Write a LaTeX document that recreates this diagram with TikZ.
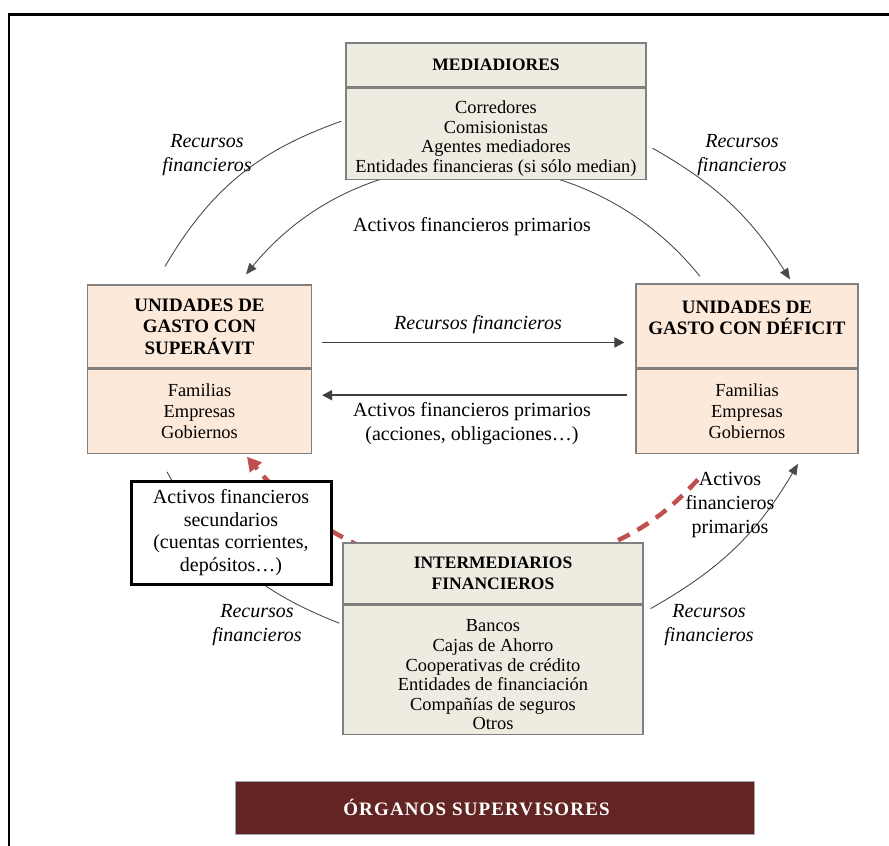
\documentclass[tikz,border=0pt]{standalone}
\usepackage{fontspec}
\setmainfont{Liberation Serif}
\usetikzlibrary{positioning,arrows.meta,backgrounds,calc}
\definecolor{beigefill}{HTML}{EEECE1}
\definecolor{peachfill}{HTML}{FDE9D9}
\definecolor{boxline}{HTML}{808080}
\definecolor{redline}{HTML}{C0504D}
\definecolor{barfill}{HTML}{632523}
\newcommand{\padtop}{\rule{0pt}{22.6pt}}
\tikzset{
  medpart/.style={draw=boxline, line width=1.2pt, fill=beigefill, minimum width=300pt, align=center, inner sep=2pt},
  unipart/.style={draw=boxline, line width=1.2pt, fill=peachfill, minimum width=224pt, align=center, inner sep=2pt},
  medhfont/.style={font=\fontsize{17.5}{21}\selectfont\bfseries},
  unihfont/.style={font=\fontsize{19}{21.5}\selectfont\bfseries},
  bodyfont/.style={font=\fontsize{18.4}{19.6}\selectfont},
  secbox/.style={draw=black, line width=3pt, fill=white, minimum width=200pt, minimum height=103pt, align=center, font=\fontsize{20}{22.7}\selectfont},
  barbox/.style={draw=gray!70, line width=1pt, fill=barfill, minimum width=519pt, minimum height=53pt, text=white, font=\fontsize{19}{22}\selectfont\bfseries\addfontfeatures{LetterSpace=6}},
  lbl/.style={font=\fontsize{20}{24}\selectfont, align=center, inner sep=0pt, yshift=-3pt},
  ilbl/.style={lbl, font=\fontsize{20}{24}\selectfont\itshape},
  flow/.style={-{Triangle[length=10pt,width=10pt]}, line width=1.8pt, draw=black!75},
  arcline/.style={line width=0.9pt, draw=black!70},
  arcflow/.style={arcline, -{Triangle[length=11pt,width=9pt]}},
  secflow/.style={draw=redline, line width=4.5pt, dash pattern=on 13pt off 9pt},
}
\begin{document}
\begin{tikzpicture}[x=1pt, y=1pt]
\useasboundingbox (0,0) rectangle (889,-846);
% frame
\draw[line width=2.5pt] (9,-900) -- (9,-14.5) -- (900,-14.5);
% boxes
\node[medpart, medhfont, minimum height=44pt] (medhead) at (496,-65) {MEDIADIORES};
\node[medpart, bodyfont, minimum height=91pt, below=0pt of medhead] (medbody) {\padtop Corredores\\Comisionistas\\Agentes mediadores\\Entidades financieras (si sólo median)};
\node[unipart, unihfont, minimum height=83pt] (suphead) at (199.5,-326.5) {UNIDADES DE\\GASTO CON\\SUPERÁVIT};
\node[unipart, font=\fontsize{18.4}{21}\selectfont, minimum height=84pt, below=0pt of suphead] (supbody) {Familias\\Empresas\\Gobiernos};
\node[unipart, unihfont, minimum width=222pt, minimum height=84pt] (defhead) at (747,-326) {UNIDADES DE\\GASTO CON DÉFICIT\rule[-17pt]{0pt}{1pt}};
\node[unipart, font=\fontsize{18.4}{21}\selectfont, minimum width=222pt, minimum height=84pt, below=0pt of defhead] (defbody) {Familias\\Empresas\\Gobiernos};
\node[medpart, medhfont, minimum height=61pt] (inthead) at (493,-573.5) {INTERMEDIARIOS\\FINANCIEROS};
\node[medpart, bodyfont, minimum height=129pt, below=0pt of inthead] (intbody) {\padtop Bancos\\Cajas de Ahorro\\Cooperativas de crédito\\Entidades de financiación\\Compañías de seguros\\Otros};
\node[secbox] (secund) at (231,-532.5) {Activos financieros\\secundarios\\(cuentas corrientes,\\depósitos…)};
\node[barbox] (organos) at (494.5,-807.5) {ÓRGANOS SUPERVISORES\hspace*{36pt}};
% labels
\node[ilbl] (rfhor) at (478,-322) {Recursos financieros};
\node[lbl] (afhor) at (472,-421) {Activos financieros primarios\\(acciones, obligaciones…)};
\node[lbl] (aftop) at (472,-224) {Activos financieros primarios};
\node[ilbl] (rftl) at (207,-152) {Recursos\\financieros};
\node[ilbl] (rftr) at (742,-152) {Recursos\\financieros};
\node[ilbl] (rfbl) at (257,-622) {Recursos\\financieros};
\node[ilbl] (rfbr) at (709,-622) {Recursos\\financieros};
\node[lbl] (afbr) at (730,-502) {Activos\\financieros\\primarios};
\coordinate (redend) at ($(afbr.north west)+(14,-6)$);
% flows
\draw[flow, shorten <=10pt, shorten >=11pt] ([yshift=-16pt]suphead.east) -- ([yshift=-16pt]suphead.east -| defhead.west);
\draw[flow, shorten <=8pt, shorten >=10pt] ([yshift=16pt]defbody.west) -- ([yshift=16pt]defbody.west -| supbody.east);
\begin{scope}[on background layer]
\draw[arcline] ($(medbody.west)+(-4,12.5)$) to[bend right=20] ($(suphead.north)+(-34.5,18)$);
\draw[arcflow] ($(medbody.east)+(6,-14.5)$) to[bend left=14] ($(defhead.north)+(43,4)$);
\draw[arcflow] ($(defhead.north)+(-47,7)$) to[bend right=51, looseness=1.05] ($(suphead.north)+(46.5,10)$);
\draw[arcline] ($(supbody.south)+(-32.5,-18)$) to[bend right=20] ($(intbody.west)+(-3,46.5)$);
\draw[arcflow] ($(inthead.south east)+(7,-4)$) to[bend right=15] ($(defbody.south)+(51,-10)$);
\draw[secflow, -{Triangle[length=14pt,width=15pt]}] ($(inthead.north west)+(20,-5)$) to[bend left=12] ($(supbody.south)+(47.5,-3)$);
\draw[secflow] ($(inthead.north)+(105,-7)$) to[bend right=12] (redend);
\end{scope}
\end{tikzpicture}
\end{document}
